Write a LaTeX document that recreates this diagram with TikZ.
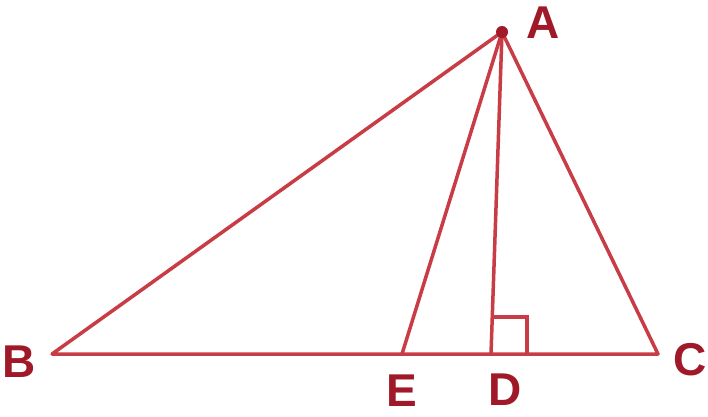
\documentclass[tikz,border=0pt]{standalone}
\usepackage{fontspec}
\setmainfont{Liberation Sans}
\definecolor{ln}{RGB}{200,60,70}
\definecolor{lb}{RGB}{160,25,40}
\tikzset{seg/.style={draw=ln,line width=3.5pt},
  lab/.style={text=lb,font=\fontsize{46}{46}\selectfont\bfseries,inner sep=0pt}}
\begin{document}
\begin{tikzpicture}[x=1pt,y=-1pt]
\useasboundingbox (0,0) rectangle (708,416);
\coordinate (A) at (502,32);
\coordinate (B) at (52,354);
\coordinate (C) at (658,354);
\coordinate (E) at (402,354);
\coordinate (D) at (491,354);
\coordinate (D1) at (491,317);
\coordinate (D2) at (527,317);
\coordinate (D3) at (527,354);
\draw[seg,line join=round] (A) -- (B) -- (C) -- cycle;
\draw[seg] (A) -- (E);
\draw[seg] (A) -- (D);
\draw[seg] (D1) -- (D2) -- (D3);
\fill[lb] (A) circle (6);
\node[lab] (lA) at (543,23) {A};
\node[lab] (lB) at (19,362) {B};
\node[lab] (lC) at (690,360) {C};
\node[lab] (lE) at (402,391) {E};
\node[lab] (lD) at (505,390) {D};
\end{tikzpicture}
\end{document}
